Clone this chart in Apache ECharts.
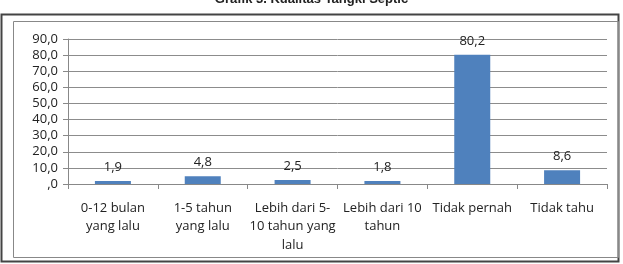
<!DOCTYPE html>
<html>
<head>
<meta charset="utf-8">
<script src="https://cdn.jsdelivr.net/npm/echarts@6/dist/echarts.min.js"></script>
<style>
  html, body { margin: 0; padding: 0; background: #fff; }
  #main { width: 623px; height: 264px; }
</style>
</head>
<body>
<div id="main"></div>
<script>
// data
var categories = ['0-12 bulan\nyang lalu', '1-5 tahun\nyang lalu', 'Lebih dari 5-\n10 tahun yang\nlalu', 'Lebih dari 10\ntahun', 'Tidak pernah', 'Tidak tahu'];
var values = [1.9, 4.8, 2.5, 1.8, 80.2, 8.6];

var fontName = '"Open Sans", "Noto Sans", sans-serif';

function koma(v) {
  // 10.0 -> "10,0", 0 -> ",0"
  if (v === 0) return ',0';
  return v.toFixed(1).replace('.', ',');
}

var myChart = echarts.init(document.getElementById('main'));
myChart.setOption({
  animation: false,
  title: {
    text: 'Grafik 3. Kualitas Tangki Septic',
    left: 'center',
    top: -12,
    textStyle: { fontFamily: 'Arial, "Liberation Sans", sans-serif', fontSize: 13, fontWeight: 'bold', color: '#222' }
  },
  graphic: [
    { type: 'rect', shape: { x: 1.5, y: 14.5, width: 617, height: 247 }, style: { fill: 'none', stroke: '#444', lineWidth: 2 } },
    { type: 'rect', shape: { x: 13.5, y: 21.5, width: 605, height: 236 }, style: { fill: 'none', stroke: '#888', lineWidth: 1 } }
  ],
  grid: { left: 68, right: 16, top: 39, bottom: 80 },
  xAxis: {
    type: 'category',
    data: categories,
    axisLine: { lineStyle: { color: '#888' } },
    axisTick: { show: true, length: 5, lineStyle: { color: '#888' } },
    axisLabel: { interval: 0, margin: 15, color: '#222', fontFamily: fontName, fontSize: 13, lineHeight: 18.5 }
  },
  yAxis: {
    type: 'value',
    min: 0,
    max: 90,
    interval: 10,
    axisLine: { show: true, lineStyle: { color: '#888' } },
    axisTick: { show: true, length: 5, lineStyle: { color: '#888' } },
    splitLine: { lineStyle: { color: '#8c8c8c' } },
    axisLabel: { margin: 10, color: '#222', fontFamily: fontName, fontSize: 13, formatter: koma }
  },
  series: [{
    type: 'bar',
    data: values,
    barWidth: 36,
    itemStyle: { color: '#4F81BD' },
    label: {
      show: true,
      position: 'top',
      distance: 7,
      color: '#222',
      fontFamily: fontName,
      fontSize: 13,
      formatter: function (p) { return koma(p.value); }
    }
  }]
});
</script>
</body>
</html>
